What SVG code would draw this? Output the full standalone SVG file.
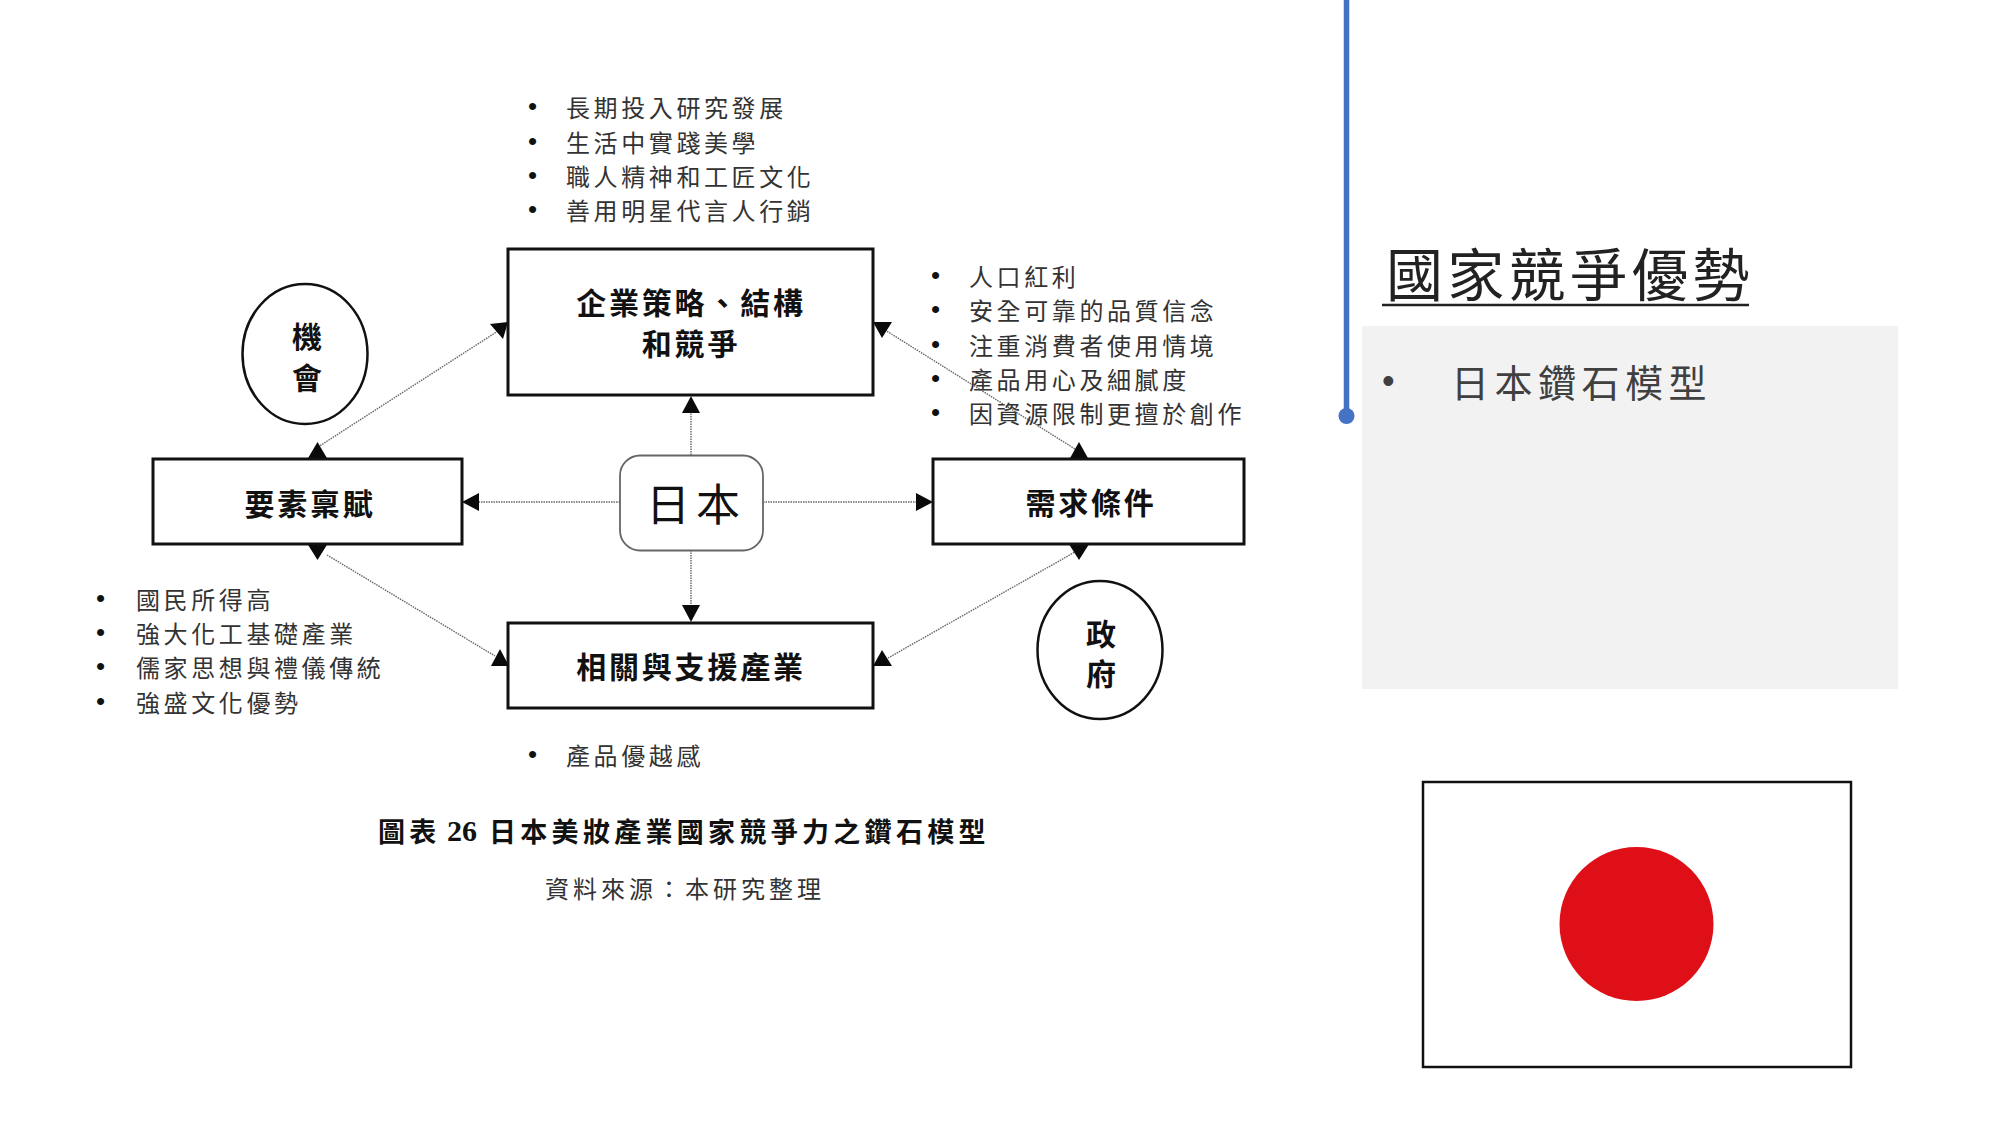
<svg xmlns="http://www.w3.org/2000/svg" width="2000" height="1125" viewBox="0 0 2000 1125">
<style>
text{font-family:"Noto Sans CJK TC","Noto Sans CJK SC",sans-serif;dominant-baseline:central}
.box{fill:#fff;stroke:#111;stroke-width:3}
.oval{fill:#fff;stroke:#111;stroke-width:2.5}
.lbl{font-size:30px;font-weight:700;letter-spacing:2.8px;fill:#111;text-anchor:middle}
.li{font-size:24px;letter-spacing:3.6px;fill:#333}
.dot{font-family:"Liberation Sans",sans-serif;font-size:26px;fill:#111;letter-spacing:0}
.ln{fill:none;stroke:#666;stroke-width:1.4;stroke-dasharray:1.5 1}
.ah{fill:#0a0a0a}
</style>
<rect width="2000" height="1125" fill="#fff"/>
<g id="connectors">
<path class="ln" d="M318 447L498 331"/>
<path class="ln" d="M327 555L495 656"/>
<path class="ln" d="M888 658L1075 552"/>
<path class="ln" d="M885 330L1075 449"/>
<path class="ln" d="M691 455V400"/>
<path class="ln" d="M691 550V610"/>
<path class="ln" d="M620 502H475"/>
<path class="ln" d="M763 502H920"/>
<polygon class="ah" points="317.500,442 307.500,459 327.500,459"/>
<polygon class="ah" points="490,324 508,322 503,339"/>
<polygon class="ah" points="307.500,544 327.500,544 317.500,560"/>
<polygon class="ah" points="491,666 509,666 500,649"/>
<polygon class="ah" points="873,666 892,666 882,650"/>
<polygon class="ah" points="1069.500,545 1088.500,545 1079,560"/>
<polygon class="ah" points="1069.500,459 1088.500,459 1079,442"/>
<polygon class="ah" points="873,322 892,322 882,338"/>
<polygon class="ah" points="682,413 700,413 691,396"/>
<polygon class="ah" points="682,605 700,605 691,622"/>
<polygon class="ah" points="479,493 479,511 462,502"/>
<polygon class="ah" points="916,493 916,511 933,502"/>
</g>
<g id="node-strategy"><rect class="box" x="508" y="249" width="365" height="146"/><text class="lbl" x="691" y="301">企業策略、結構</text><text class="lbl" x="691" y="342">和競爭</text></g>
<g id="node-factor"><rect class="box" x="153" y="459" width="309" height="85"/><text class="lbl" x="310" y="502">要素稟賦</text></g>
<g id="node-demand"><rect class="box" x="933" y="459" width="311" height="85"/><text class="lbl" x="1091" y="501">需求條件</text></g>
<g id="node-related"><rect class="box" x="508" y="623" width="365" height="85"/><text class="lbl" x="691" y="665">相關與支援產業</text></g>
<g id="node-japan"><rect x="620" y="455.500" width="143" height="95" rx="20" fill="#fff" stroke="#666" stroke-width="1.800"/><text x="696" y="502" font-size="44" letter-spacing="6" fill="#111" text-anchor="middle">日本</text></g>
<g id="node-chance"><ellipse class="oval" cx="305" cy="354" rx="62.500" ry="70"/><text class="lbl" x="307" y="335" style="letter-spacing:0">機</text><text class="lbl" x="307" y="376" style="letter-spacing:0">會</text></g>
<g id="node-gov"><ellipse class="oval" cx="1100" cy="650" rx="62.500" ry="69"/><text class="lbl" x="1101" y="632" style="letter-spacing:0">政</text><text class="lbl" x="1101" y="672" style="letter-spacing:0">府</text></g>
<g id="list-top">
<text class="li" y="105.500"><tspan class="dot" x="528">•</tspan><tspan x="566">長期投入研究發展</tspan></text>
<text class="li" y="140.500"><tspan class="dot" x="528">•</tspan><tspan x="566">生活中實踐美學</tspan></text>
<text class="li" y="174.500"><tspan class="dot" x="528">•</tspan><tspan x="566">職人精神和工匠文化</tspan></text>
<text class="li" y="208.500"><tspan class="dot" x="528">•</tspan><tspan x="566">善用明星代言人行銷</tspan></text>
</g>
<g id="list-right">
<text class="li" y="274.500"><tspan class="dot" x="931">•</tspan><tspan x="969">人口紅利</tspan></text>
<text class="li" y="309"><tspan class="dot" x="931">•</tspan><tspan x="969">安全可靠的品質信念</tspan></text>
<text class="li" y="343.500"><tspan class="dot" x="931">•</tspan><tspan x="969">注重消費者使用情境</tspan></text>
<text class="li" y="377.500"><tspan class="dot" x="931">•</tspan><tspan x="969">產品用心及細膩度</tspan></text>
<text class="li" y="412"><tspan class="dot" x="931">•</tspan><tspan x="969">因資源限制更擅於創作</tspan></text>
</g>
<g id="list-left">
<text class="li" y="597.500"><tspan class="dot" x="96">•</tspan><tspan x="136">國民所得高</tspan></text>
<text class="li" y="632"><tspan class="dot" x="96">•</tspan><tspan x="136">強大化工基礎產業</tspan></text>
<text class="li" y="666"><tspan class="dot" x="96">•</tspan><tspan x="136">儒家思想與禮儀傳統</tspan></text>
<text class="li" y="700.500"><tspan class="dot" x="96">•</tspan><tspan x="136">強盛文化優勢</tspan></text>
</g>
<g id="list-bottom"><text class="li" y="754"><tspan class="dot" x="528">•</tspan><tspan x="566">產品優越感</tspan></text></g>
<g id="caption">
<text y="830" font-size="27" font-weight="700" fill="#111" letter-spacing="4.300"><tspan x="378">圖表</tspan><tspan x="447" font-family="Liberation Serif" letter-spacing="0" font-size="30">26</tspan><tspan x="489">日本美妝產業國家競爭力之鑽石模型</tspan></text>
<text x="545" y="887" font-size="24" letter-spacing="4" fill="#333">資料來源：本研究整理</text>
</g>
<g id="panel">
<rect x="1362" y="326" width="536" height="363" fill="#f2f2f2"/>
<path d="M1346.500 0V416" stroke="#4472c4" stroke-width="5.500" fill="none"/>
<circle cx="1346.500" cy="416" r="8" fill="#4472c4"/>
<text x="1386" y="271" font-size="57" letter-spacing="4.300" fill="#222">國家競爭優勢</text>
<path d="M1382 305H1749" stroke="#222" stroke-width="2.500"/>
<text y="380" font-size="38" letter-spacing="5.500" fill="#404040"><tspan x="1382" font-family="Liberation Sans" letter-spacing="0" font-size="36">•</tspan><tspan x="1451">日本鑽石模型</tspan></text>
</g>
<g id="flag">
<rect x="1423" y="782" width="428" height="285" fill="#fff" stroke="#111" stroke-width="2.500"/>
<circle cx="1636.500" cy="924" r="77" fill="#df0f18"/>
</g>
</svg>
